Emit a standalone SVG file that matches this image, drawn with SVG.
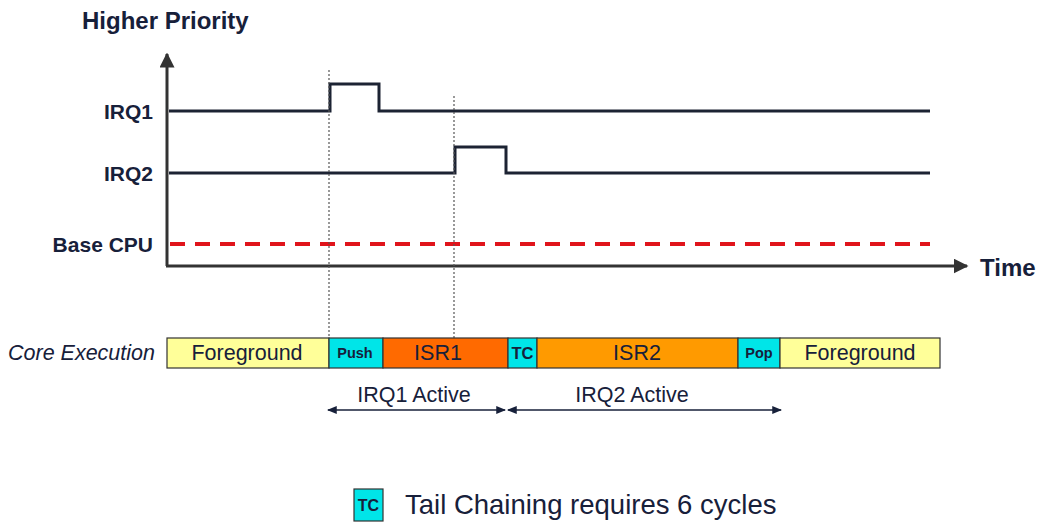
<svg xmlns="http://www.w3.org/2000/svg" width="1061" height="528" viewBox="0 0 1061 528">
<style>
text{font-family:"Liberation Sans",Arial,sans-serif;fill:#17203a}
.lbl{font-size:21px;font-weight:bold;text-anchor:end}
.sig{fill:none;stroke:#1c2333;stroke-width:3}
.seg{stroke:#333;stroke-width:1.2}
.st{font-size:21.5px;text-anchor:middle}
.sb{font-size:14.5px;font-weight:bold;text-anchor:middle}
.dot{stroke:#555;stroke-width:1.2;stroke-dasharray:2 2}
.act{font-size:21.5px;text-anchor:middle}
</style>
<defs>
<marker id="ah" viewBox="0 0 10 10" refX="9" refY="5" markerWidth="5" markerHeight="5" orient="auto-start-reverse" markerUnits="strokeWidth"><path d="M0,0L10,5L0,10z" fill="#333"/></marker>
<marker id="sm" viewBox="0 0 10 10" refX="9" refY="5" markerWidth="7.5" markerHeight="7.5" orient="auto-start-reverse" markerUnits="strokeWidth"><path d="M0,1L10,5L0,9z" fill="#17203a"/></marker>
</defs>
<text x="82" y="29" style="font-size:24px;font-weight:bold">Higher Priority</text>
<g id="axes">
<line x1="167" y1="266" x2="167" y2="54" stroke="#333" stroke-width="3" marker-end="url(#ah)"/>
<line x1="166" y1="266" x2="967" y2="266" stroke="#333" stroke-width="3" marker-end="url(#ah)"/>
<text x="980" y="276" style="font-size:24px;font-weight:bold">Time</text>
</g>
<g id="irq1">
<text class="lbl" x="153" y="119">IRQ1</text>
<path class="sig" d="M169,111H330V84H379V111H930"/>
</g>
<g id="irq2">
<text class="lbl" x="153" y="181">IRQ2</text>
<path class="sig" d="M169,173H455V147H506V173H930"/>
</g>
<g id="base">
<text class="lbl" x="153" y="252">Base CPU</text>
<line x1="170" y1="244" x2="930" y2="244" stroke="#e0141b" stroke-width="4" stroke-dasharray="15 10"/>
</g>
<g id="guides">
<line class="dot" x1="329" y1="70" x2="329" y2="338"/>
<line class="dot" x1="454" y1="96" x2="454" y2="338"/>
</g>
<text x="8" y="360" style="font-size:21.5px;font-style:italic">Core Execution</text>
<g id="exec">
<g id="fg1"><rect class="seg" x="167" y="338" width="162" height="30" fill="#ffff99"/><text class="st" x="247" y="360">Foreground</text></g>
<g id="push"><rect class="seg" x="329" y="338" width="54" height="30" fill="#00e5e8"/><text class="sb" x="355" y="358">Push</text></g>
<g id="isr1"><rect class="seg" x="383" y="338" width="125" height="30" fill="#ff6a00"/><text class="st" x="438" y="360">ISR1</text></g>
<g id="tc"><rect class="seg" x="508" y="338" width="29" height="30" fill="#00e5e8"/><text class="sb" x="522.5" y="359" style="font-size:16.5px">TC</text></g>
<g id="isr2"><rect class="seg" x="537" y="338" width="201" height="30" fill="#ff9a00"/><text class="st" x="637" y="360">ISR2</text></g>
<g id="pop"><rect class="seg" x="738" y="338" width="42" height="30" fill="#00e5e8"/><text class="sb" x="759" y="358">Pop</text></g>
<g id="fg2"><rect class="seg" x="780" y="338" width="160" height="30" fill="#ffff99"/><text class="st" x="860" y="360">Foreground</text></g>
</g>
<g id="connectors">
<line x1="328" y1="410" x2="505" y2="410" stroke="#17203a" stroke-width="1.3" marker-start="url(#sm)" marker-end="url(#sm)"/>
<line x1="508" y1="410" x2="781" y2="410" stroke="#17203a" stroke-width="1.3" marker-start="url(#sm)" marker-end="url(#sm)"/>
</g>
<text class="act" x="414" y="402">IRQ1 Active</text>
<text class="act" x="632" y="402">IRQ2 Active</text>
<g id="legend">
<rect x="354" y="489" width="29" height="32" fill="#00e5e8" stroke="#333" stroke-width="1.2"/>
<text x="368.5" y="511" style="font-size:16px;font-weight:bold;text-anchor:middle">TC</text>
<text x="405" y="514" style="font-size:27.5px">Tail Chaining requires 6 cycles</text>
</g>
</svg>
